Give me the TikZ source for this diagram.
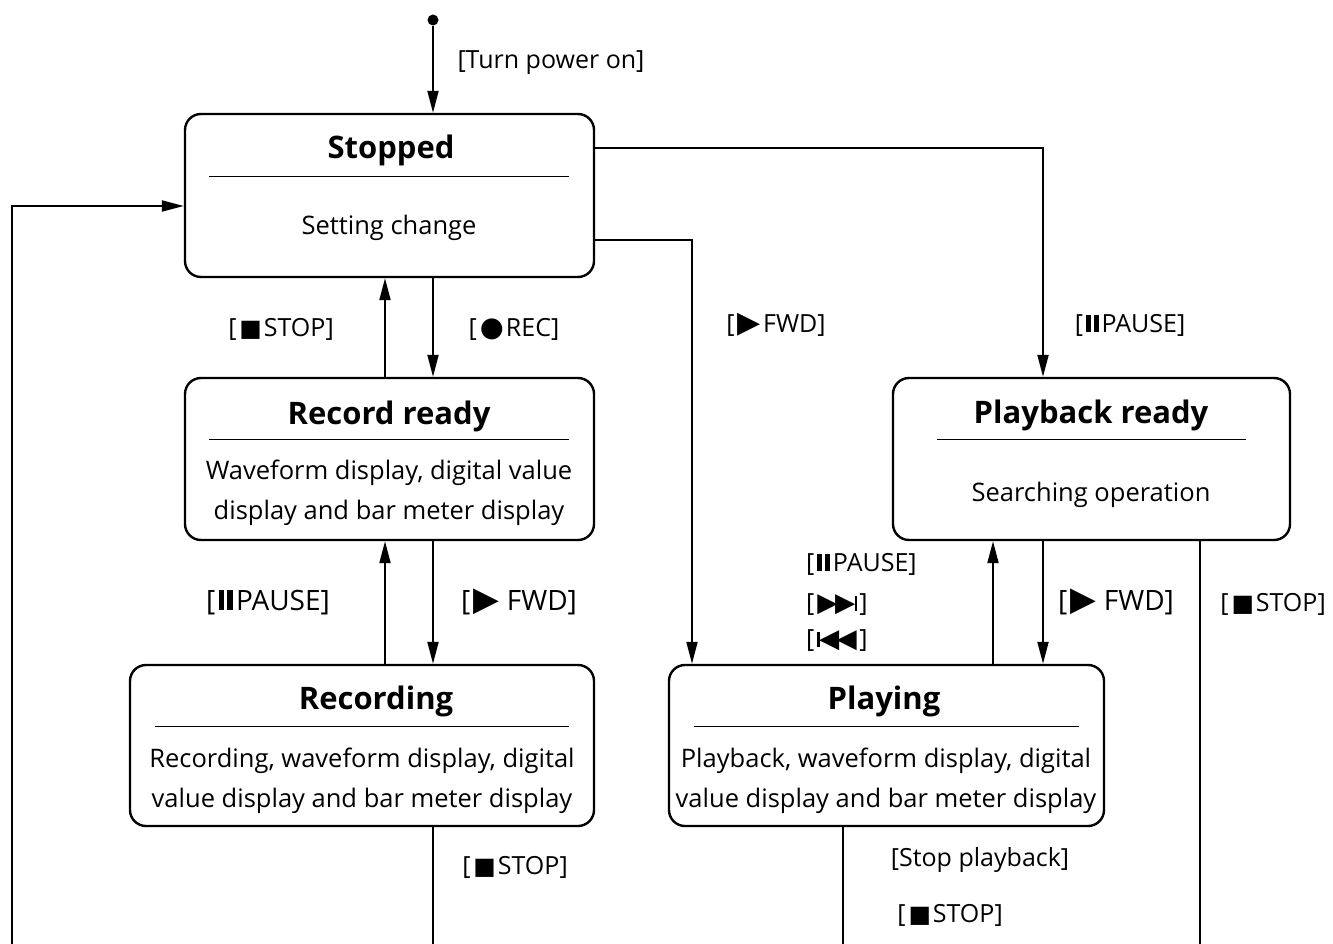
\documentclass[tikz,border=0pt]{standalone}
\usepackage{fontspec}
\usepackage{graphicx}
\setmainfont{Open Sans}
\newfontfamily\symf{DejaVu Sans}
\usetikzlibrary{arrows.meta}
\newcommand\mstop{\kern0.12em\scalebox{0.95}{\symf\char"25A0}\kern0.08em}
\newcommand\mrec{\kern0.12em\scalebox{1.1}{\symf\char"25CF}\kern0.08em}
\newcommand\mplay{\kern0.12em\scalebox{1.2}{\symf\char"25B6}\kern0.1em}
\newcommand\mpause{\kern0.12em\rule{0.2em}{0.7em}\hspace{0.1em}\rule{0.2em}{0.7em}\kern0.12em}
\newcommand\mnext{\kern0.12em\scalebox{1.05}{\symf\char"25B6\kern-0.1em\char"25B6}\kern-0.02em\rule{0.09em}{0.62em}\kern0.1em}
\newcommand\mprev{\kern0.12em\rule{0.09em}{0.62em}\kern-0.02em\scalebox{1.05}{\symf\char"25C0\kern-0.1em\char"25C0}\kern0.1em}
\begin{document}
\begin{tikzpicture}[x=1pt,y=-1pt,
  state/.style={draw, line width=2.4pt, rounded corners=16pt, inner sep=0pt},
  conn/.style={line width=2pt},
  arr/.style={conn, -{Triangle[length=22pt,width=11pt]}},
  lbl/.style={font=\fontsize{25}{30}\selectfont, inner sep=0pt, anchor=base},
  biglbl/.style={font=\fontsize{28}{32}\selectfont, inner sep=0pt, anchor=base},
  title/.style={font=\bfseries\fontsize{31}{36}\selectfont, inner sep=0pt, anchor=base},
  body/.style={font=\fontsize{25.5}{30}\selectfont, inner sep=0pt, anchor=base},
  rulel/.style={line width=1pt}]
\useasboundingbox (0,0) rectangle (1333,944);

% helper coordinates
\coordinate (x385) at (385,0);
\coordinate (x433) at (433,0);
\coordinate (x692) at (692,0);
\coordinate (x993) at (993,0);
\coordinate (x1043) at (1043,0);
\coordinate (y148) at (0,148);
\coordinate (y206) at (0,206);
\coordinate (y240) at (0,240);

% states
\node[state, minimum width=409pt, minimum height=163pt] (st) at (389.5,195.5) {};
\node[title] (stT) at (391,159) {Stopped};
\draw[rulel] (209,177) -- (569,177);
\node[body] (stB) at (389,235) {Setting change};

\node[state, minimum width=409pt, minimum height=162pt] (rr) at (389.5,459) {};
\node[title] (rrT) at (389,424) {Record ready};
\draw[rulel] (209,439) -- (569,439);
\node[body] (rrB1) at (389,479) {Waveform display, digital value};
\node[body] (rrB2) at (389,519) {display and bar meter display};

\node[state, minimum width=464pt, minimum height=161pt] (rec) at (362,745.5) {};
\node[title] (recT) at (376,709) {Recording};
\draw[rulel] (155,726) -- (569,726);
\node[body] (recB1) at (362,767) {Recording, waveform display, digital};
\node[body] (recB2) at (362,807) {value display and bar meter display};

\node[state, minimum width=435pt, minimum height=161pt] (pl) at (886.5,745.5) {};
\node[title] (plT) at (884,709) {Playing};
\draw[rulel] (694,726) -- (1079,726);
\node[body] (plB1) at (886,767) {Playback, waveform display, digital};
\node[body] (plB2) at (886,807) {value display and bar meter display};

\node[state, minimum width=397pt, minimum height=162pt] (pr) at (1091.5,459) {};
\node[title] (prT) at (1091,423) {Playback ready};
\draw[rulel] (937,439) -- (1246,439);
\node[body] (prB) at (1091,501) {Searching operation};

% initial
\node[circle, fill, inner sep=0pt, minimum size=11pt] (init) at (433,20) {};
\draw[arr] (init) -- (st.north -| init);
\node[lbl] (lTurn) at (551,69) {[Turn power on]};

% connectors
\coordinate (lb) at (12,944);
\draw[arr] (lb) |- (st.west |- y206);
\draw[arr] (st.east |- y148) -| (pr.north -| x1043);
\draw[arr] (st.east |- y240) -| (pl.north -| x692);
\draw[arr] (rr.north -| x385) -- (st.south -| x385);
\draw[arr] (st.south -| x433) -- (rr.north -| x433);
\draw[arr] (rec.north -| x385) -- (rr.south -| x385);
\draw[arr] (rr.south -| x433) -- (rec.north -| x433);
\draw[arr] (pl.north -| x993) -- (pr.south -| x993);
\draw[arr] (pr.south -| x1043) -- (pl.north -| x1043);
\coordinate (e1) at (433,944);
\coordinate (e2) at (843,944);
\coordinate (e3) at (1200,944);
\draw[conn] (rec.south -| e1) -- (e1);
\draw[conn] (pl.south -| e2) -- (e2);
\draw[conn] (pr.south -| e3) -- (e3);

% labels
\node[lbl] (l1) at (281,336) {[\mstop STOP]};
\node[lbl] (l2) at (514,336) {[\mrec REC]};
\node[lbl] (l3) at (776,332) {[\mplay FWD]};
\node[lbl] (l4) at (1130,332) {[\mpause PAUSE]};
\node[biglbl] (l5) at (268,610) {[\mpause PAUSE]};
\node[biglbl] (l6) at (519,610) {[\mplay\,FWD]};
\node[lbl, anchor=base west] (l7) at (806,571) {[\mpause PAUSE]};
\node[lbl, anchor=base west] (l8) at (806,611) {[\mnext]};
\node[lbl, anchor=base west] (l9) at (806,647) {[\mprev]};
\node[biglbl] (l10) at (1116,610) {[\mplay\,FWD]};
\node[lbl] (l11) at (1273,611) {[\mstop STOP]};
\node[lbl] (l12) at (515,874) {[\mstop STOP]};
\node[lbl] (l13) at (980,866) {[Stop playback]};
\node[lbl] (l14) at (950,922) {[\mstop STOP]};
\end{tikzpicture}
\end{document}
